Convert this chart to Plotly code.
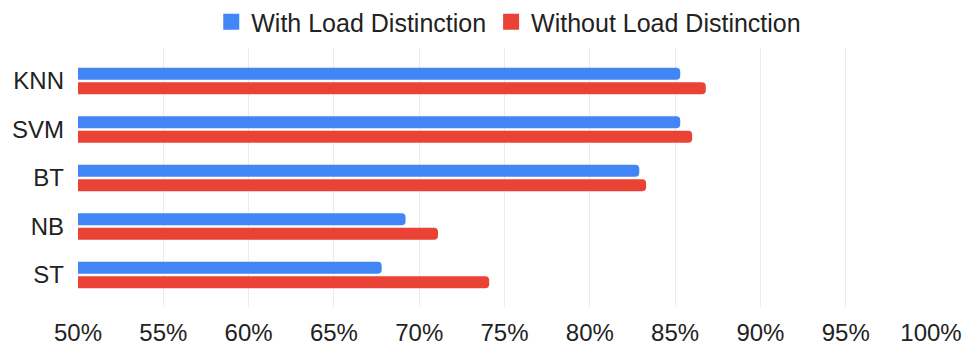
import plotly.graph_objects as go

categories = ["KNN", "SVM", "BT", "NB", "ST"]
with_load = [85.3, 85.3, 82.9, 69.2, 67.8]
without_load = [86.8, 86.0, 83.3, 71.1, 74.1]
x_ticks = [50, 55, 60, 65, 70, 75, 80, 85, 90, 95, 100]
x_tick_labels = [f"{v}%" for v in x_ticks]

series = [
    ("With Load Distinction", with_load, "#4285F4"),
    ("Without Load Distinction", without_load, "#EA4335"),
]

fig = go.Figure()
for name, vals, color in series:
    fig.add_trace(go.Bar(
        y=categories, x=vals, orientation="h", name=name, showlegend=False,
        legendgroup=name,
        marker=dict(color=color, cornerradius=4, line=dict(width=0)),
    ))
for name, vals, color in series:
    # legend-only entry with a larger square swatch
    fig.add_trace(go.Scatter(
        x=[None], y=[None], mode="markers", name=name, legendgroup=name,
        marker=dict(symbol="square", size=16, color=color),
        showlegend=True,
    ))

fig.update_layout(
    width=971, height=352,
    margin=dict(l=78, r=40, t=48, b=45, autoexpand=False),
    paper_bgcolor="white", plot_bgcolor="white",
    barmode="group", bargap=0.4, bargroupgap=0.18,
    font=dict(family="Liberation Sans, Arial, sans-serif", color="#222222"),
    legend=dict(orientation="h", x=0.505, xanchor="center",
                yref="container", y=0.9375, yanchor="middle",
                font=dict(size=25, color="#222222"), itemwidth=30,
                bgcolor="rgba(0,0,0,0)", itemsizing="trace"),
    showlegend=True,
)
fig.update_xaxes(
    range=[50, 100], tickvals=x_ticks, ticktext=x_tick_labels,
    showgrid=True, gridcolor="#ebebeb", gridwidth=1,
    zeroline=False, showline=False, ticks="",
    tickfont=dict(size=24, color="#222222"), ticklabelstandoff=9,
    automargin=False,
)
fig.update_yaxes(
    categoryorder="array", categoryarray=categories,
    range=[4.66, -0.68], showgrid=False, zeroline=False, showline=False, ticks="",
    tickfont=dict(size=24, color="#222222"), ticklabelstandoff=13,
    automargin=False,
)

fig.write_html("out.html")
